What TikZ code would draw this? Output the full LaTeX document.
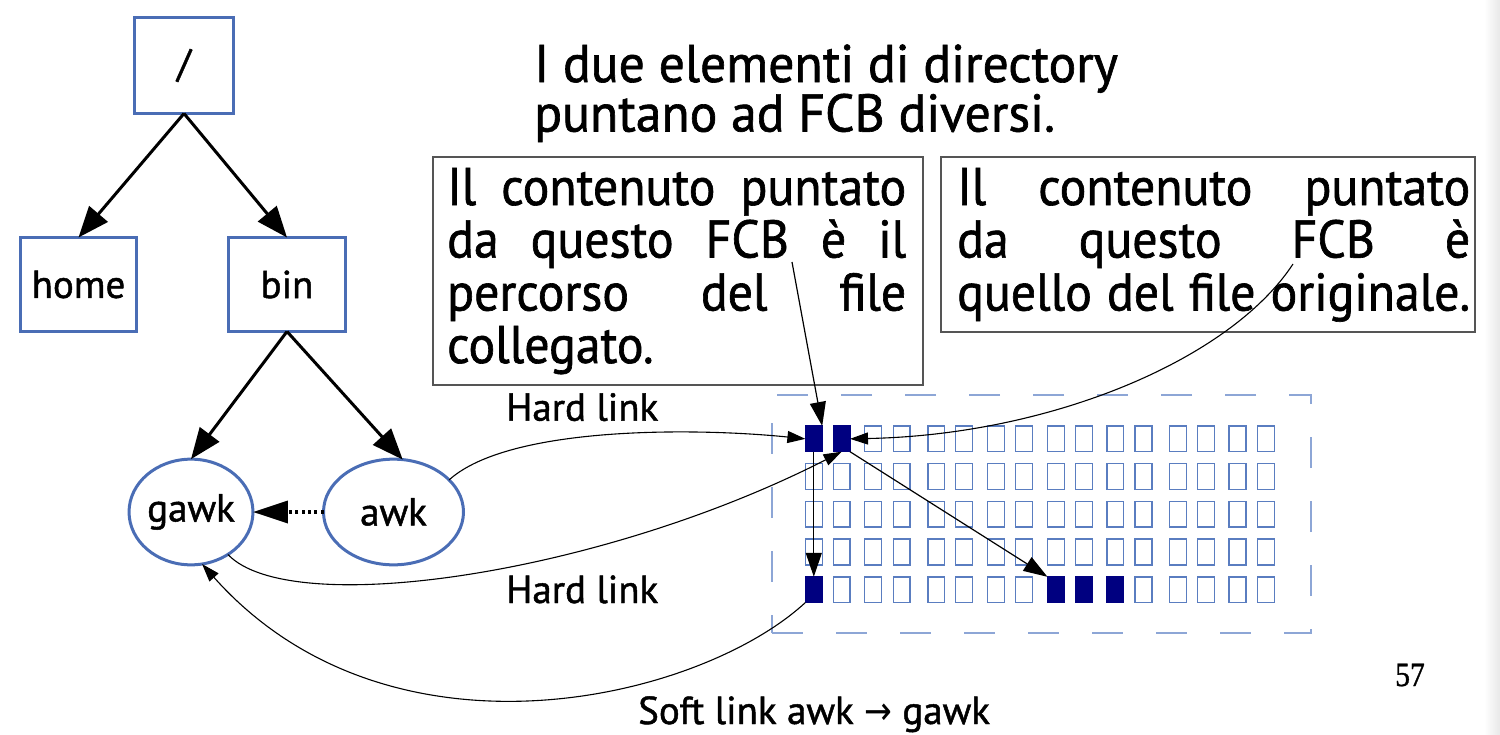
\documentclass[tikz,border=0pt]{standalone}
\usepackage{fontspec}
\setmainfont{PT Sans}[FakeBold=1.2]
\newfontfamily\titlefont{PT Sans}[FakeStretch=0.975,FakeBold=1.2]
\newfontfamily\boxfont{PT Sans}[FakeStretch=0.94,FakeBold=1.2]
\newfontfamily\numfont{Liberation Serif}[FakeStretch=0.87,FakeBold=1]
\newfontfamily\arrowfont{DejaVu Sans}[FakeStretch=0.85]
\usetikzlibrary{arrows.meta,shapes.geometric}
\definecolor{treeblue}{HTML}{4A6DB5}
\definecolor{cellblue}{HTML}{5A7DC0}
\definecolor{navyfill}{HTML}{000080}
\definecolor{dashblue}{HTML}{8DA6D6}
\definecolor{boxgray}{HTML}{555555}
\begin{document}
\begin{tikzpicture}[x=1pt,y=-1pt,
  treebox/.style={draw=treeblue, line width=3pt, inner sep=0pt, outer sep=0pt, font=\fontsize{39}{40}\selectfont},
  treeell/.style={ellipse, draw=treeblue, line width=3pt, inner sep=0pt, outer sep=0pt, font=\fontsize{39}{40}\selectfont},
  treearrow/.style={line width=3pt, -{Triangle[length=31pt,width=24pt]}},
  dotarrow/.style={line width=3.5pt, dash pattern=on 3pt off 3.3pt, -{Triangle[length=35pt,width=22pt]}},
  thinarrow/.style={line width=1.2pt, -{Triangle[length=24pt,width=16pt]}},
  smallarrow/.style={line width=1.1pt, -{Triangle[length=18pt,width=12pt]}},
  textbox/.style={draw=boxgray, line width=1.5pt, inner sep=0pt, outer sep=0pt, anchor=north west},
  titletext/.style={font=\titlefont\fontsize{53}{53}\selectfont, anchor=base west, inner sep=0pt},
  bigtext/.style={font=\boxfont\fontsize{53}{53}\selectfont, anchor=base west, inner sep=0pt},
  lbl/.style={font=\fontsize{39}{40}\selectfont, anchor=base west, inner sep=0pt},
  cell/.style={draw=cellblue, line width=1.4pt, minimum width=16.8pt, minimum height=25.7pt, inner sep=0pt, outer sep=0pt},
]
\useasboundingbox (0,0) rectangle (1500,734);
\shade[left color=white, right color=black!9] (1484,0) rectangle (1500,734);

% tree
\node[treebox, minimum width=99pt, minimum height=96pt] (root) at (184,65.5) {/};
\node[treebox, minimum width=116pt, minimum height=94pt] (home) at (78.5,284.5) {home};
\node[treebox, minimum width=117pt, minimum height=94pt] (bin) at (287,284.5) {bin};
\node[treeell, minimum width=113pt, minimum height=105.7pt] (gawk) at (191,512) {gawk};
\node[treeell, minimum width=140pt, minimum height=105.7pt] (awk) at (393.5,512) {awk};
\draw[treearrow] (root.south) -- (home.north);
\draw[treearrow] (root.south) -- (bin.north);
\draw[treearrow] (bin.south) -- (gawk.north);
\draw[treearrow] (bin.south) -- (awk.80);
\draw[dotarrow] (awk.west) -- (gawk.east);

% title
\node[titletext] (t1) at (534,82) {I due elementi di directory};
\node[titletext] (t2) at (534,131.5) {puntano ad FCB diversi.};

% text boxes
\node[textbox, minimum width=490pt, minimum height=228pt] (box1) at (433,157) {};
\node[textbox, minimum width=534pt, minimum height=175pt] (box2) at (941,157) {};
\node[bigtext] (b1a) at (447,205) {\makebox[459pt][s]{Il contenuto puntato}};
\node[bigtext] (b1b) at (447,257.5) {\makebox[459pt][s]{da questo FCB è il}};
\node[bigtext] (b1c) at (447,310.5) {\makebox[459pt][s]{percorso del file}};
\node[bigtext] (b1d) at (447,363) {collegato.};
\node[bigtext] (b2a) at (957,205) {\makebox[513pt][s]{Il contenuto puntato}};
\node[bigtext] (b2b) at (957,257.5) {\makebox[513pt][s]{da questo FCB è}};
\node[bigtext] (b2c) at (957,310.5) {\makebox[513pt][s]{quello del file originale.}};

% grid
\node[draw=dashblue, line width=1.8pt, dash pattern=on 31pt off 33pt, inner sep=0pt, minimum width=539pt, minimum height=238pt] (frame) at (1041.5,514) {};
\def\colx{{805.4,833.2,864.6,893.2,927.9,955.7,987.5,1015.7,1047.5,1075.4,1106.8,1135,1169.6,1197.5,1229,1257.5}}
\foreach \r in {0,...,4} {
  \foreach \c in {0,...,15} {
    \pgfmathsetmacro\cx{\colx[\c]+8.4}
    \pgfmathsetmacro\cy{426+37.7*\r+12.85}
    \node[cell] (c-\r-\c) at (\cx,\cy) {};
  }
}
\foreach \r/\c in {0/0,0/1,4/0,4/8,4/9,4/10} {
  \filldraw[fill=navyfill, draw=navyfill, line width=1.4pt] (c-\r-\c.south west) rectangle (c-\r-\c.north east);
}

% labels
\node[lbl] (hl1) at (506,420.7) {Hard link};
\node[lbl] (hl2) at (506,603) {Hard link};
\node[lbl] (soft) at (638,724) {Soft link awk {\arrowfont →} gawk};
\node[font=\numfont\fontsize{34}{35}\selectfont, anchor=base west, inner sep=0pt] (pg) at (1395,686) {57};

% connectors
\coordinate (b1s) at (792,262);
\coordinate (b2s) at (1293,264);
\draw[thinarrow] (b1s) -- (c-0-0.north east);
\draw[smallarrow] (b2s) .. controls (1230,360) and (1050,435) .. (c-0-1.east);
\draw[smallarrow] (awk.30) .. controls (510,425) and (700,428) .. (c-0-0.west);
\draw[smallarrow] (gawk.-49) .. controls (290,620) and (600,575) .. (c-0-1.south);
\draw[thinarrow] (c-0-0.south) -- (c-4-0.north);
\draw[thinarrow] (c-0-1.south east) -- (c-4-8.north west);
\draw[smallarrow] (c-4-0.south west) .. controls (700,700) and (390,775) .. (gawk.-78);
\end{tikzpicture}
\end{document}
